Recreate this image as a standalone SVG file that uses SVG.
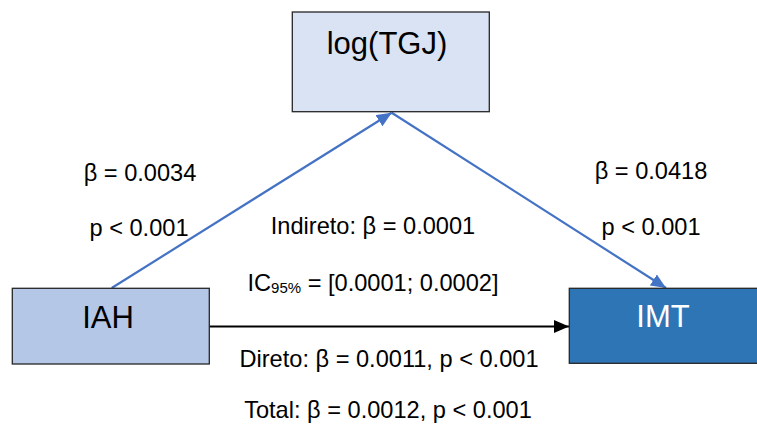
<svg xmlns="http://www.w3.org/2000/svg" width="757" height="427" viewBox="0 0 757 427">
  <style>
    .box { stroke: #262626; stroke-width: 1.3; }
    .big { font-family: "Liberation Sans", Arial, sans-serif; font-size: 31px; text-anchor: middle; }
    .lbl { font-family: "Liberation Sans", Arial, sans-serif; font-size: 23.6px; fill: #000; text-anchor: middle; }
    .blue { stroke: #4472c4; stroke-width: 2.2; fill: none; }
    .black { stroke: #000; stroke-width: 2.2; fill: none; }
  </style>
  <defs>
    <marker id="arrowBlue" markerUnits="userSpaceOnUse" markerWidth="16" markerHeight="14" refX="15" refY="6.5" orient="auto">
      <path d="M0,0 L15,6.5 L0,13 z" fill="#4472c4"/>
    </marker>
    <marker id="arrowBlack" markerUnits="userSpaceOnUse" markerWidth="16" markerHeight="14" refX="15" refY="6.5" orient="auto">
      <path d="M0,0 L15,6.5 L0,13 z" fill="#000"/>
    </marker>
  </defs>

  <rect width="757" height="427" fill="#ffffff"/>

  <!-- connectors -->
  <g id="connectors">
    <line class="blue" x1="111.7" y1="288" x2="391.7" y2="112.7" marker-end="url(#arrowBlue)"/>
    <line class="blue" x1="391.7" y1="112.7" x2="666" y2="288" marker-end="url(#arrowBlue)"/>
    <line class="black" x1="209.5" y1="326.5" x2="569" y2="326.5" marker-end="url(#arrowBlack)"/>
  </g>

  <!-- mediator -->
  <g id="node-logTGJ">
    <rect class="box" x="292.3" y="12" width="197" height="99.7" fill="#dae3f3"/>
    <text class="big" x="387" y="54.3" fill="#000">log(TGJ)</text>
  </g>

  <!-- exposure -->
  <g id="node-IAH">
    <rect class="box" x="12.3" y="288.3" width="197" height="75.7" fill="#b4c7e7"/>
    <text class="big" x="108" y="327.7" fill="#000">IAH</text>
  </g>

  <!-- outcome -->
  <g id="node-IMT">
    <rect class="box" x="569.3" y="288.3" width="197" height="75" fill="#2e75b6"/>
    <text class="big" x="663" y="326.7" fill="#ffffff">IMT</text>
  </g>

  <!-- path coefficients -->
  <g id="labels">
    <text class="lbl" x="140" y="180.7">β = 0.0034</text>
    <text class="lbl" x="139" y="236">p &lt; 0.001</text>
    <text class="lbl" x="651" y="179.3">β = 0.0418</text>
    <text class="lbl" x="651" y="235">p &lt; 0.001</text>
    <text class="lbl" x="373" y="234.3">Indireto: β = 0.0001</text>
    <text class="lbl" x="373" y="291">IC<tspan font-size="15" dy="1.5">95%</tspan><tspan dy="-1.5"> = [0.0001; 0.0002]</tspan></text>
    <text class="lbl" x="389" y="366.7">Direto: β = 0.0011, p &lt; 0.001</text>
    <text class="lbl" x="388" y="418.3">Total: β = 0.0012, p &lt; 0.001</text>
  </g>
</svg>
